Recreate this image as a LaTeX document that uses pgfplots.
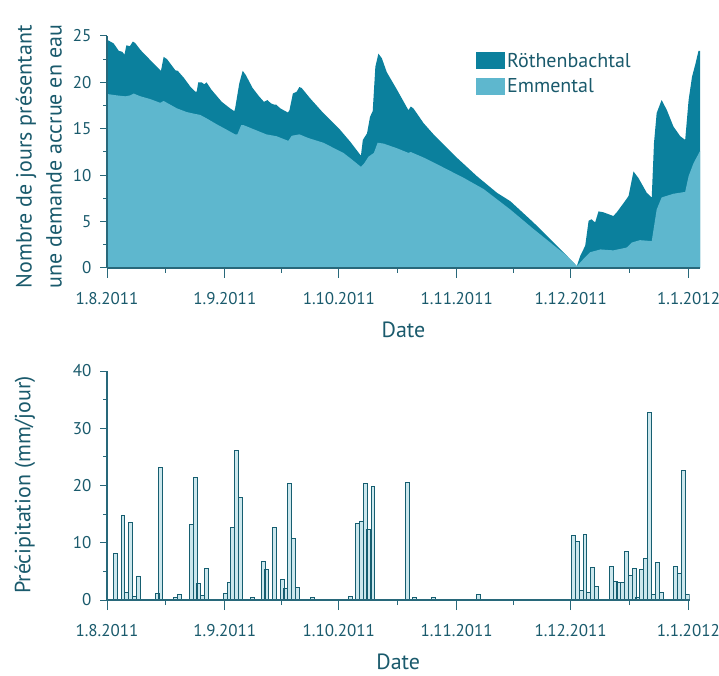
\documentclass[border=0pt]{standalone}
\usepackage{pgfplots}
\pgfplotsset{compat=1.18}
\usepackage{fontspec}
\setmainfont{PT Sans}
\definecolor{darkc}{RGB}{11,128,157}
\definecolor{lightc}{RGB}{94,183,206}
\definecolor{textc}{RGB}{26,90,108}
\definecolor{axisc}{RGB}{40,104,122}
\definecolor{barfill}{RGB}{204,231,237}
\definecolor{baredge}{RGB}{22,94,112}

\pgfplotstableread{
day val
0 24.6
1.75 24.2
3.1 23.4
4.0 23.3
4.6 23.0
5.1 24.0
6.0 23.9
6.8 24.4
7.4 24.25
8.8 23.5
11.4 22.4
14.2 21.25
14.9 22.75
15.8 22.5
18.0 21.3
18.6 21.25
20.2 20.5
22.0 19.5
23.2 19.0
23.6 19.0
24.0 20.0
24.9 20.0
25.6 19.8
26.2 20.0
27.5 19.2
30.2 17.9
32.4 17.2
33.5 16.9
33.7 17.2
34.8 19.9
35.7 21.25
36.5 20.8
38.3 19.4
40.0 18.5
41.3 17.9
42.2 18.1
43.1 17.75
44.0 17.6
44.5 17.6
45.6 17.2
47.6 16.75
48.0 17.0
48.9 18.8
49.9 19.0
50.6 19.5
51.2 19.4
53.4 18.3
56.9 16.7
61.3 14.9
64.0 13.6
66.8 12.1
67.3 13.8
68.4 14.5
69.2 16.3
69.9 16.9
70.6 21.7
71.4 23.1
72.3 22.6
73.6 21.1
76.3 19.2
79.3 17.0
79.9 17.4
80.6 17.2
83.3 15.6
85.9 14.4
92.0 11.9
97.3 9.9
102.6 8.1
106.1 7.2
112.2 4.9
117.5 2.75
121.0 1.3
123.6 0.2
124.5 1.3
125.8 2.4
126.7 5.1
127.5 5.25
128.4 4.9
129.3 6.1
130.6 6.0
133.2 5.6
134.1 6.0
135.9 7.0
137.2 7.75
138.5 10.4
139.8 9.7
142.0 8.1
143.3 7.6
143.9 13.5
144.6 16.7
145.9 18.1
147.3 17.0
149.0 15.25
150.8 14.2
152.1 13.8
153.0 18.1
153.9 20.6
154.8 22.0
155.6 23.4
156.0 23.4
}\roethen

\pgfplotstableread{
day val
0 18.75
2.6 18.6
4.8 18.5
6.1 18.6
7.0 18.8
8.8 18.5
11.4 18.2
14.0 17.8
14.9 18.0
18.4 17.2
21.0 16.8
23.2 16.6
24.5 16.5
26.3 16.1
28.8 15.5
31.5 14.9
33.7 14.4
34.3 14.4
35.3 15.4
35.9 15.4
38.3 15.0
41.9 14.4
44.6 14.2
47.7 13.7
48.6 14.25
50.6 14.4
53.0 14.0
56.9 13.5
62.2 12.4
64.4 11.7
66.8 10.9
67.7 11.3
68.8 12.0
70.2 12.4
71.2 13.5
72.8 13.4
76.3 12.9
79.3 12.4
79.9 12.5
83.3 11.9
87.7 11.0
93.9 9.7
99.1 8.5
106.1 6.3
112.2 4.2
116.6 2.75
121.0 1.3
123.6 0.2
125.4 1.0
127.1 1.7
129.8 2.0
133.2 1.9
136.7 2.2
138.1 2.75
140.2 3.0
143.3 2.9
144.6 6.3
145.9 7.6
149.0 8.0
152.1 8.2
153.0 9.9
154.3 11.3
156.0 12.6
}\emmental

\pgfplotstableread{
day val
2.2 8.2
4.2 14.8
5.2 1.3
6.1 13.5
7.2 0.6
8.2 4.2
13.2 1.2
14.1 23.1
18.1 0.4
19.0 1.0
22.2 13.2
23.2 21.4
24.1 2.9
25.2 0.8
26.1 5.5
31.1 1.2
32.1 3.1
33.1 12.6
34.1 26.1
35.2 17.9
38.2 0.4
41.1 6.7
42.0 5.3
44.0 12.6
46.1 3.6
47.0 2.1
48.0 20.3
49.0 10.7
50.1 2.2
54.0 0.5
64.0 0.6
65.9 13.4
66.9 13.8
68.0 20.4
68.9 12.3
70.0 19.8
79.0 20.6
81.0 0.5
86.0 0.4
97.8 1.0
122.7 11.2
123.8 10.2
124.8 1.6
125.8 11.4
126.8 1.3
127.8 5.7
128.8 2.3
132.7 5.8
133.8 3.3
134.7 3.1
135.7 3.0
136.7 8.5
137.7 4.3
138.8 5.5
139.7 0.4
140.7 5.3
141.8 7.3
142.8 32.7
143.8 1.0
144.8 6.6
145.9 1.3
149.6 5.8
150.6 4.7
151.7 22.7
152.7 1.0
}\precip

\begin{document}
\begin{tikzpicture}
\useasboundingbox (0,0) rectangle (719pt,675pt);
\pgfplotsset{
 common/.style={
  scale only axis,
  axis lines=left,
  axis line style={-, draw=axisc, line width=1.1pt},
  tick style={draw=axisc, line width=1pt},
  tick align=outside,
  major tick length=7pt,
  minor tick length=4pt,
  xtick style={/pgfplots/major tick length=10pt, /pgfplots/minor tick length=5pt},
  xtick={0,31,61,92,122,153},
  xticklabels={1.8.2011,1.9.2011,1.10.2011,1.11.2011,1.12.2011,1.1.2012},
  minor xtick={15.5,46,76.5,107,137.5},
  tick label style={font=\fontsize{17}{20}\selectfont, text=textc},
  xticklabel style={yshift=-14pt},
  yticklabel style={xshift=-5pt},
  label style={font=\fontsize{22}{30}\selectfont, text=textc},
  /pgf/number format/assume math mode=true,
  xmin=0,
  xlabel={Date},
  xlabel style={at={(axis description cs:0.5,0)}, anchor=center, yshift=-62pt},
  axis on top,
 }
}
\begin{axis}[common,
  at={(107pt,407pt)}, anchor=south west,
  width=593pt, height=232pt,
  xmax=156, ymin=0, ymax=25,
  ytick={0,5,...,25}, minor ytick={2.5,7.5,...,22.5},
  ylabel={Nombre de jours présentant\\une demande accrue en eau},
  ylabel style={align=center, at={(axis description cs:-0.115,0.48)}, anchor=center},
  legend style={at={(rel axis cs:0.617,0.945)}, anchor=north west, draw=none, fill=none,
    font=\fontsize{20}{24}\selectfont, text=textc, row sep=6pt},
  legend cell align=left,
  legend image code/.code={\fill[#1] (-5pt,-8.5pt) rectangle (24pt,8.5pt);},
]
\addplot[fill=darkc, draw=none] table[x=day,y=val] {\roethen} \closedcycle;
\addlegendentry{Röthenbachtal}
\addplot[fill=lightc, draw=none] table[x=day,y=val] {\emmental} \closedcycle;
\addlegendentry{Emmental}
\end{axis}

\begin{axis}[common,
  at={(107pt,75pt)}, anchor=south west,
  width=582.5pt, height=229pt,
  xmax=153.3, ymin=0, ymax=40,
  ytick={0,10,...,40}, minor ytick={5,15,...,35},
  ylabel={Précipitation (mm/jour)},
  ylabel style={at={(axis description cs:-0.141,0.502)}, anchor=center},
]
\addplot[ybar, bar width=1, fill=barfill, draw=baredge, line width=0.9pt] table[x=day,y=val] {\precip};
\end{axis}
\end{tikzpicture}
\end{document}
